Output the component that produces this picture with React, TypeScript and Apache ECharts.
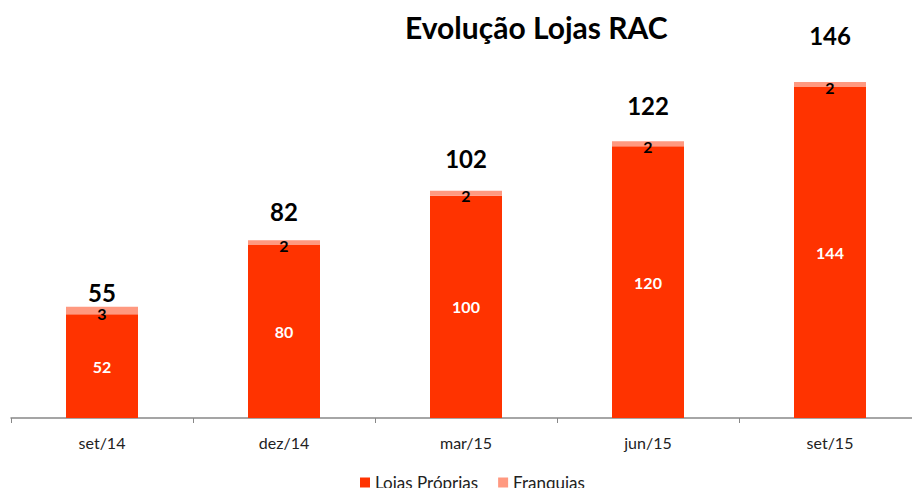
import React, { useEffect, useRef } from "react";
import * as echarts from "echarts";

const categories = ["set/14", "dez/14", "mar/15", "jun/15", "set/15"];
const lojasProprias = [52, 80, 100, 120, 144];
const franquias = [3, 2, 2, 2, 2];
const totals = [55, 82, 102, 122, 146];
// extra lift of the total labels above each bar (style only)
const totalLabelGap = [1.5, 16, 19.5, 23, 34];

export default function App() {
  const ref = useRef<HTMLDivElement>(null);
  useEffect(() => {
    if (!ref.current) return;
    const chart = echarts.init(ref.current, undefined, { renderer: "svg" });
    const font = "Lato, 'Open Sans', sans-serif";
    const totalLabel = {
      show: true,
      position: "top",
      distance: 0,
      color: "#000",
      opacity: 1,
      fontFamily: font,
      fontWeight: "bold",
      fontSize: 24,
    };
    chart.setOption({
      animation: false,
      title: {
        text: "Evolução Lojas RAC",
        left: 400,
        top: 7,
        textStyle: { fontFamily: font, fontSize: 30, fontWeight: "bold", color: "#000" },
      },
      legend: {
        data: ["Lojas Próprias", "Franquias"],
        left: 355,
        top: 469,
        itemWidth: 10,
        itemHeight: 10,
        itemGap: 20,
        icon: "rect",
        textStyle: { fontFamily: font, fontSize: 17, color: "#222" },
      },
      grid: { left: 11, width: 910, top: 47.5, height: 370.5 },
      xAxis: {
        type: "category",
        data: categories,
        axisLine: { lineStyle: { color: "#888", width: 1.5 } },
        axisTick: { show: true, length: 5, lineStyle: { color: "#888" } },
        axisLabel: { fontFamily: font, fontSize: 16, color: "#222", margin: 16 },
      },
      yAxis: {
        type: "value",
        min: 10,
        max: 160,
        show: false,
        splitLine: { show: false },
      },
      series: [
        {
          name: "Lojas Próprias",
          type: "bar",
          stack: "t",
          barWidth: 72,
          data: lojasProprias,
          itemStyle: { color: "#FF3300" },
          label: {
            show: true,
            position: "inside",
            color: "#fff",
            fontFamily: font,
            fontWeight: "bold",
            fontSize: 16,
          },
        },
        {
          name: "Franquias",
          type: "bar",
          stack: "t",
          barWidth: 72,
          data: franquias,
          itemStyle: { color: "#FF9980" },
          label: {
            show: true,
            position: "inside",
            offset: [0, 2.5],
            color: "#000",
            fontFamily: font,
            fontWeight: "bold",
            fontSize: 16,
          },
        },
        {
          name: "Total",
          type: "scatter",
          symbol: "circle",
          symbolSize: 1,
          data: totals.map((v, i) => ({
            value: v,
            label: { ...totalLabel, offset: [0, -totalLabelGap[i]] },
          })),
          itemStyle: { color: "rgba(0,0,0,0)", opacity: 1 },
          label: totalLabel,
        },
      ],
    });
    return () => chart.dispose();
  }, []);
  return (
    <div
      style={{
        position: "absolute",
        left: 0,
        top: 0,
        width: 912,
        height: 488,
        overflow: "hidden",
      }}
    >
      <div ref={ref} style={{ width: 930, height: 488 }} />
    </div>
  );
}
